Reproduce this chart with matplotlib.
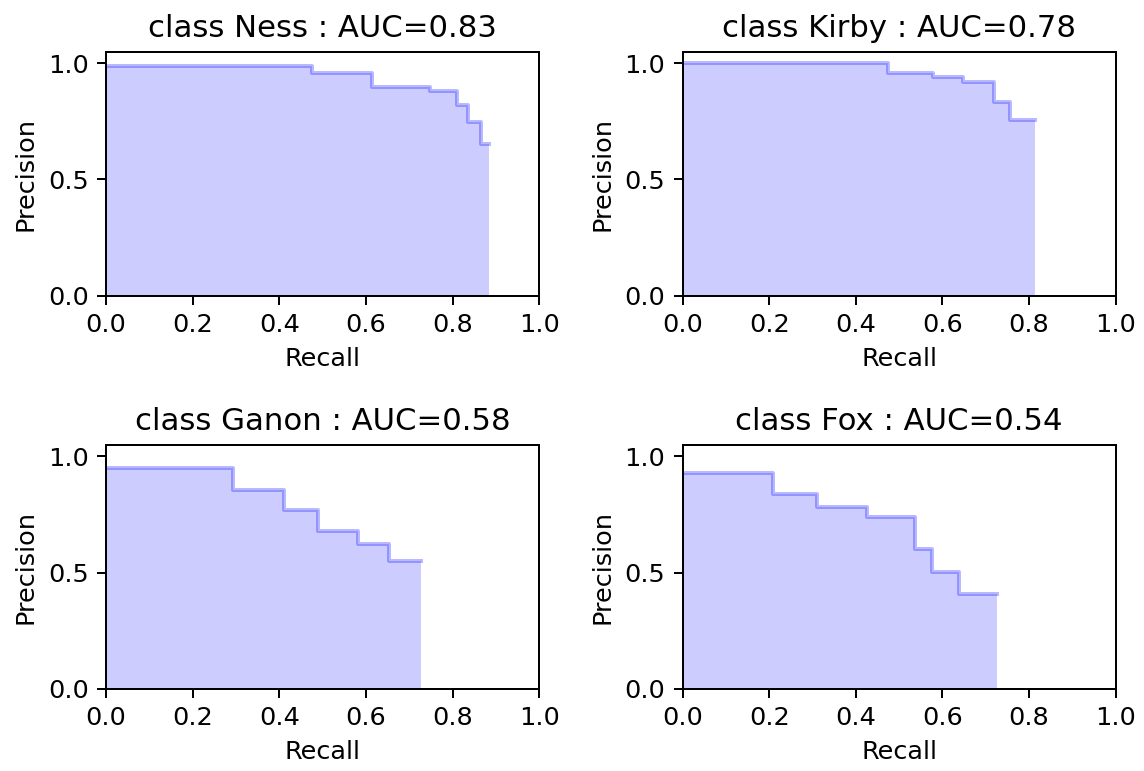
import matplotlib
matplotlib.use("Agg")
import matplotlib.pyplot as plt

classes = ["Ness", "Kirby", "Ganon", "Fox"]
aucs = [0.83, 0.78, 0.58, 0.54]

ness_recall = [0.0, 0.475, 0.615, 0.748, 0.811, 0.836, 0.865, 0.885]
ness_precision = [0.988, 0.957, 0.898, 0.882, 0.820, 0.749, 0.651, 0.651]

kirby_recall = [0.0, 0.475, 0.579, 0.647, 0.719, 0.757, 0.814]
kirby_precision = [1.0, 0.960, 0.943, 0.920, 0.834, 0.756, 0.756]

ganon_recall = [0.0, 0.293, 0.410, 0.489, 0.581, 0.654, 0.727]
ganon_precision = [0.951, 0.855, 0.769, 0.679, 0.621, 0.551, 0.551]

fox_recall = [0.0, 0.208, 0.310, 0.425, 0.536, 0.575, 0.638, 0.725]
fox_precision = [0.929, 0.838, 0.783, 0.737, 0.600, 0.503, 0.408, 0.408]

recalls = [ness_recall, kirby_recall, ganon_recall, fox_recall]
precisions = [ness_precision, kirby_precision, ganon_precision, fox_precision]

plt.rcParams['font.size'] = 10.3
plt.rcParams['axes.titlesize'] = 12.4

fig, axes = plt.subplots(2, 2, figsize=(6.4, 771 / 178.75), dpi=178.75)
fig.subplots_adjust(left=0.0927, right=0.9753, top=0.933, bottom=0.1068,
                    wspace=0.331, hspace=0.612)

for ax, name, auc, r, p in zip(axes.flat, classes, aucs, recalls, precisions):
    ax.step(r, p, color='b', alpha=0.28, where='post', linewidth=1.6)
    ax.fill_between(r, p, step='post', alpha=0.2, color='b', linewidth=0)
    ax.set_xlabel('Recall')
    ax.set_ylabel('Precision')
    ax.set_ylim([0.0, 1.05])
    ax.set_xlim([0.0, 1.0])
    ax.set_title('class {} : AUC={:.2f}'.format(name, auc))

fig.savefig('out.png', dpi=178.75)
